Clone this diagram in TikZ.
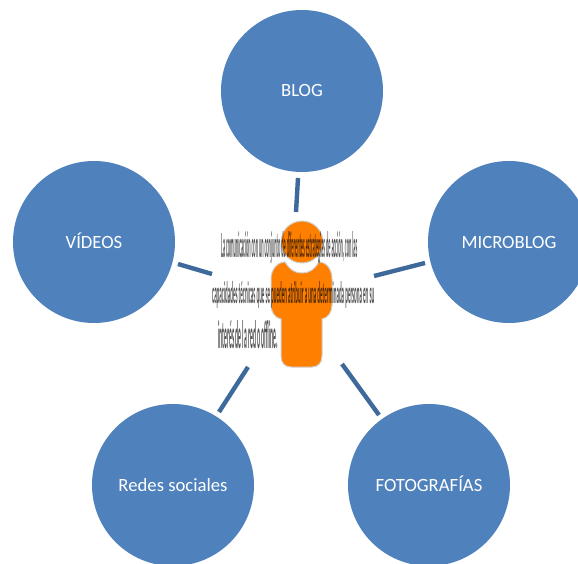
\documentclass[tikz,border=0pt]{standalone}
\usepackage{fontspec}
\setmainfont{Carlito}
\usepackage{graphicx}
\tikzset{
  topic/.style={circle,fill=topicblue,minimum size=162pt,inner sep=0pt,text=white,text height=12pt,text depth=0pt,font=\fontsize{18.7}{22}\selectfont},
  spoke/.style={draw=spokeblue,line width=4.4pt},
  person/.style={fill=personorange,draw=persongray,line width=1pt},
  squeezed/.style={inner sep=0pt,anchor=west,text=black,opacity=.68,font=\bfseries}
}
\definecolor{topicblue}{HTML}{4F81BD}
\definecolor{spokeblue}{HTML}{3D6A9B}
\definecolor{personorange}{HTML}{FF7F00}
\definecolor{persongray}{HTML}{D0D0D0}
\begin{document}
\begin{tikzpicture}[x=1pt,y=-1pt]
\useasboundingbox (0,0) rectangle (578,564);
\fill[white] (0,0) rectangle (578,564);
\begin{scope}
\clip (0,0) rectangle (578,564);
\node[topic] (blog) at (302,91) {BLOG};
\node[topic] (micro) at (509,242) {MICROBLOG};
\node[topic] (foto) at (429,485) {FOTOGRAFÍAS};
\node[topic] (redes) at (173,485) {Redes sociales};
\node[topic] (videos) at (94,242) {VÍDEOS};
\end{scope}
\coordinate (blogIn) at (296,212);
\coordinate (microIn) at (374,276);
\coordinate (fotoIn) at (342,364);
\coordinate (redesIn) at (248,367);
\coordinate (videosIn) at (212,274);
\coordinate (blogOut) at (298,178);
\coordinate (microOut) at (425,263);
\coordinate (fotoOut) at (379,415);
\coordinate (redesOut) at (219,412);
\coordinate (videosOut) at (178,264);
\draw[spoke] (blogOut) -- (blogIn);
\draw[spoke] (microOut) -- (microIn);
\draw[spoke] (fotoOut) -- (fotoIn);
\draw[spoke] (redesOut) -- (redesIn);
\draw[spoke] (videosOut) -- (videosIn);
% person
\node[circle,person,minimum size=42pt,inner sep=0pt] (head) at (302,242) {};
\path[person]
  (281,346) -- (281,319)
  .. controls (275,318) and (271,312) .. (271,305)
  -- (271,279)
  .. controls (271,270) and (277,262) .. (285,262)
  .. controls (290,270) and (295,273) .. (302,273)
  .. controls (309,273) and (314,270) .. (319,262)
  .. controls (327,262) and (332,270) .. (332,279)
  -- (332,305)
  .. controls (332,312) and (328,318) .. (322,319)
  -- (322,356)
  .. controls (322,363) and (318,367) .. (312,367)
  -- (291,367)
  .. controls (285,367) and (281,363) .. (281,356)
  -- cycle;
% squeezed text
\node[squeezed] (t1) at (221,248) {\resizebox{136pt}{26pt}{La comunicación con un conjunto de diferentes estrategias de acción, con las}};
\node[squeezed] (t2) at (212,295) {\resizebox{162pt}{22pt}{capacidades técnicas que se pueden atribuir a una determinada persona en su}};
\node[squeezed] (t3) at (218,335) {\resizebox{60pt}{28pt}{interés de la red o offline.}};
\end{tikzpicture}
\end{document}
